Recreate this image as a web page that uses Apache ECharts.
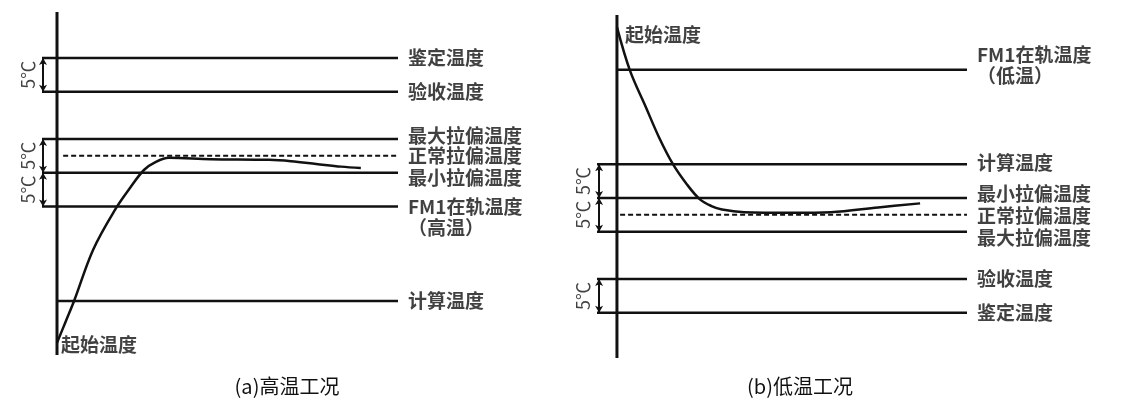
<!DOCTYPE html>
<html><head><meta charset="utf-8">
<script src="https://cdn.jsdelivr.net/npm/echarts@6/dist/echarts.min.js"></script>
<style>html,body{margin:0;padding:0;background:#fff}#c{width:1142px;height:417px}</style>
</head><body><div id="c"></div>
<script>
// ---- Panel (a) 高温工况 ----
const aRefNames = ['鉴定温度', '验收温度', '最大拉偏温度', '正常拉偏温度', '最小拉偏温度', 'FM1在轨温度\n（高温）', '计算温度'];
const aRefValues = [36, 31, 24, 21.5, 19, 14, 0];
const aRefStart = [-4.4, -4.4, -4.4, 1.8, -4.4, -4.4, 0];
const aRefDashed = [false, false, false, true, false, false, false];
const aCurveX = [0, 2.5, 5.0, 10.6, 17.0, 21.5, 25.5, 29.0, 32.8, 45, 62.2, 68.6, 76, 83.3, 89.1];
const aCurveT = [-6.2, -3.1, 0, 7.6, 13.5, 16.8, 19.4, 20.6, 21.2, 21.0, 20.9, 20.7, 20.3, 19.9, 19.7];
const aBrackets = [[31, 36], [19, 24], [14, 19]];
const aAxisRange = [-8, 42.8];
const aStartLabel = '起始温度';
const aCaption = '(a)高温工况';
// label nudges (px) so the stacked labels do not collide
const aLabelNudge = [0, 0, -3, 0, 5, 11, 0];

// ---- Panel (b) 低温工况 ----
const bRefNames = ['FM1在轨温度\n（低温）', '计算温度', '最小拉偏温度', '正常拉偏温度', '最大拉偏温度', '验收温度', '鉴定温度'];
const bRefValues = [14, 0, -5, -7.5, -10, -17, -22];
const bRefStart = [0, -5.7, -5.7, 0.9, -5.7, -5.7, -5.7];
const bRefDashed = [false, false, false, true, false, false, false];
const bCurveX = [0, 3.7, 8.3, 12, 16, 20, 23.7, 27, 30, 36.3, 50, 61.1, 74.6, 86.6];
const bCurveT = [20.3, 13.9, 8.4, 4.0, 0, -3.0, -5.2, -6.2, -6.7, -7.1, -7.2, -7.1, -6.4, -5.8];
const bBrackets = [[-5, 0], [-10, -5], [-22, -17]];
const bAxisRange = [-28.7, 22.1];
const bStartLabel = '起始温度';
const bCaption = '(b)低温工况';
const bLabelNudge = [-4, -1, -4, 1, 6, 0, 0];

const bracketText = '5℃';
const FONT = "'Noto Sans CJK SC', sans-serif";
const INK = '#111';

function panel(idx, names, values, starts, dashed, nudge, cx, ct, brackets, axisRange, startLabel, bracketX, bracketLabelX, startLabelOpt) {
  const s = [];
  const base = {xAxisIndex: idx, yAxisIndex: idx, clip: false, silent: true};
  const txt = {fontFamily: FONT, fontWeight: 'bold', fontSize: 19, color: INK};
  // vertical axis
  s.push(Object.assign({type: 'line', data: [[0, axisRange[0]], [0, axisRange[1]]],
    symbol: 'none', lineStyle: {color: INK, width: 3}}, base));
  // reference lines
  names.forEach((n, i) => {
    s.push(Object.assign({type: 'line', symbol: 'none',
      lineStyle: {color: INK, width: dashed[i] ? 2 : 2.5, type: dashed[i] ? [5, 3] : 'solid'},
      data: [[starts[i], values[i]], [100, values[i]]]
    }, base));
  });
  // reference line labels
  s.push(Object.assign({type: 'scatter', symbolSize: 0,
    data: names.map((n, i) => ({value: [100, values[i]], name: n, label: {offset: [0, nudge[i]]}})),
    label: Object.assign({show: true, position: 'right', distance: 10, formatter: p => p.name, lineHeight: 21}, txt)
  }, base));
  // brackets with arrows
  s.push(Object.assign({type: 'line', data: [], symbol: 'none',
    markLine: {silent: true, symbol: ['arrow', 'arrow'], symbolSize: [6, 7], animation: false,
      lineStyle: {color: INK, width: 2, type: 'solid'}, label: {show: false},
      data: brackets.map(b => [{coord: [bracketX, b[0]]}, {coord: [bracketX, b[1]]}])}
  }, base));
  // bracket labels
  s.push(Object.assign({type: 'scatter', symbolSize: 0,
    data: brackets.map(b => [bracketLabelX, (b[0] + b[1]) / 2]),
    label: {show: true, position: 'inside', rotate: 90, formatter: bracketText,
      fontFamily: FONT, fontSize: 18, color: INK}
  }, base));
  // curve
  s.push(Object.assign({type: 'line', data: cx.map((x, i) => [x, ct[i]]), symbol: 'none',
    smooth: 0.35, lineStyle: {color: INK, width: 2.5}}, base));
  // start label
  s.push(Object.assign({type: 'scatter', symbolSize: 0, data: [[cx[0], ct[0]]],
    label: Object.assign({show: true, position: 'right', formatter: startLabel}, txt, startLabelOpt)
  }, base));
  return s;
}

const chart = echarts.init(document.getElementById('c'), null, {renderer: 'canvas'});
const hiddenX = (g, min) => ({type: 'value', gridIndex: g, min: min, max: 100, show: false});
const hiddenY = (g, r) => ({type: 'value', gridIndex: g, min: r[0], max: r[1], show: false});
chart.setOption({
  animation: false,
  backgroundColor: '#fff',
  title: [
    {text: aCaption, left: 282, top: 371, textAlign: 'center',
      textStyle: {fontFamily: FONT, fontSize: 20, fontWeight: 'normal', color: INK}},
    {text: bCaption, left: 795, top: 371, textAlign: 'center',
      textStyle: {fontFamily: FONT, fontSize: 20, fontWeight: 'normal', color: INK}}
  ],
  grid: [
    {left: 42, top: 12, width: 356, height: 343},
    {left: 597, top: 15, width: 370, height: 343}
  ],
  xAxis: [hiddenX(0, -4.4), hiddenX(1, -5.7)],
  yAxis: [hiddenY(0, aAxisRange), hiddenY(1, bAxisRange)],
  series: [].concat(
    panel(0, aRefNames, aRefValues, aRefStart, aRefDashed, aLabelNudge, aCurveX, aCurveT, aBrackets, aAxisRange, aStartLabel, -4.1, -8.6, {distance: 4, offset: [0, 2]}),
    panel(1, bRefNames, bRefValues, bRefStart, bRefDashed, bLabelNudge, bCurveX, bCurveT, bBrackets, bAxisRange, bStartLabel, -5.1, -9.6, {distance: 8, offset: [0, 8]})
  )
});
</script></body></html>
